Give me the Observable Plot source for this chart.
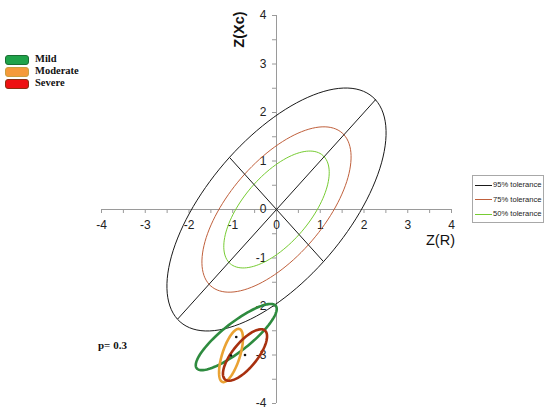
<!DOCTYPE html>
<html><head><meta charset="utf-8">
<script src="https://cdn.jsdelivr.net/npm/d3@7"></script>
<script src="https://cdn.jsdelivr.net/npm/@observablehq/plot@0.6"></script>
<style>
body{margin:0;background:#fff;}
#wrap{position:relative;width:550px;height:413px;overflow:hidden;}
.lg{position:absolute;font-family:"Liberation Serif","Times New Roman",serif;font-weight:bold;font-size:10.5px;color:#111;}
.sw{position:absolute;width:22px;height:8px;border-radius:3px;border:1px solid;}
#tol{position:absolute;left:472px;top:175px;width:70px;height:46px;border:1px solid #a8a8a8;background:#fff;font-family:"Liberation Sans",Arial,sans-serif;font-size:7.6px;color:#222;}
#tol .row{position:absolute;left:2px;height:10px;line-height:10px;white-space:nowrap;}
#tol .ln{display:inline-block;width:17px;height:0;border-top:1px solid;vertical-align:middle;margin-right:1px;}
</style></head><body>
<div id="wrap"></div>
<script>
// axis ticks
const axisTicks = [-4, -3, -2, -1, 0, 1, 2, 3, 4];
const minorTicks = [-4, -3.5, -3, -2.5, -2, -1.5, -1, -0.5, 0, 0.5, 1, 1.5, 2, 2.5, 3, 3.5, 4];
const xTitle = "Z(R)";
const yTitle = "Z(Xc)";

// tolerance ellipses (semi-axes along the 45° diagonals, in Z units)
const tolLabels = ["95% tolerance", "75% tolerance", "50% tolerance"];
const tolSemiMajor = [3.2, 2.18, 1.54];
const tolSemiMinor = [1.52, 1.03, 0.73];
const tolColors = ["#1a1a1a", "#c0603c", "#77cc33"];

// patient groups (confidence ellipses)
const groupNames = ["Mild", "Moderate", "Severe"];
const groupCx = [-0.92, -1.04, -0.72];
const groupCy = [-2.63, -3.01, -3.0];
const groupSemiMajor = [1.11, 0.58, 0.68];
const groupSemiMinor = [0.3, 0.2, 0.27];
const groupAngle = [35, 70, 47];
const groupColors = ["#2e8b3f", "#eaa233", "#a8300f"];
const groupSwatchFill = ["#1fa34a", "#f59a3a", "#ee1111"];
const groupSwatchBorder = ["#1a6e33", "#c9a040", "#8b3010"];
const pLabel = "p= 0.3";

function ellipse(cx, cy, a, b, deg) {
  const t = deg * Math.PI / 180;
  return d3.range(0, 361, 3).map(k => {
    const u = k * Math.PI / 180;
    return {
      x: cx + a * Math.cos(u) * Math.cos(t) - b * Math.sin(u) * Math.sin(t),
      y: cy + a * Math.cos(u) * Math.sin(t) + b * Math.sin(u) * Math.cos(t)
    };
  });
}

const xRange = [101, 451], yRange = [403, 15];
const pxPerX = (xRange[1] - xRange[0]) / 8;
const pxPerY = (yRange[0] - yRange[1]) / 8;
const font = "Liberation Sans, Arial, sans-serif";

const marks = [];
// axes
marks.push(Plot.ruleY([0], {x1: axisTicks[0], x2: axisTicks[axisTicks.length - 1], stroke: "#9a9a9a"}));
marks.push(Plot.ruleX([0], {y1: axisTicks[0], y2: axisTicks[axisTicks.length - 1], stroke: "#9a9a9a"}));
marks.push(Plot.ruleX(minorTicks, {x: d => d, y1: 0, y2: -4 / pxPerY, stroke: "#9a9a9a"}));
marks.push(Plot.ruleY(minorTicks, {y: d => d, x1: 0, x2: -4 / pxPerX, stroke: "#9a9a9a"}));
marks.push(Plot.text(axisTicks, {x: d => d, y: 0, dy: 16, text: d => String(d), fontSize: 12, fill: "#222", fontFamily: font}));
marks.push(Plot.text(axisTicks, {x: 0, y: d => d, dx: -10, textAnchor: "end", text: d => String(d), fontSize: 12, fill: "#222", fontFamily: font}));
marks.push(Plot.text([xTitle], {x: axisTicks[axisTicks.length - 1], y: 0, dx: -11, dy: 31, text: d => d, fontSize: 14.5, fill: "#111", fontFamily: font}));
marks.push(Plot.text([yTitle], {x: 0, y: axisTicks[axisTicks.length - 1], dx: -37, dy: 14, rotate: -90, text: d => d, fontSize: 14.5, fontWeight: "bold", fill: "#111", fontFamily: font}));

// tolerance ellipses
tolLabels.forEach((lab, i) => {
  marks.push(Plot.line(ellipse(0, 0, tolSemiMajor[i], tolSemiMinor[i], 45), {x: "x", y: "y", stroke: tolColors[i], strokeWidth: 1, curve: "linear-closed"}));
});
// axes of 95% ellipse
const ma = tolSemiMajor[0] / Math.SQRT2, mi = tolSemiMinor[0] / Math.SQRT2;
marks.push(Plot.link([{x1: -ma, y1: -ma, x2: ma, y2: ma}, {x1: -mi, y1: mi, x2: mi, y2: -mi}], {x1: "x1", y1: "y1", x2: "x2", y2: "y2", stroke: tolColors[0], strokeWidth: 1}));

// group ellipses
groupNames.forEach((g, i) => {
  marks.push(Plot.line(ellipse(groupCx[i], groupCy[i], groupSemiMajor[i], groupSemiMinor[i], groupAngle[i]), {x: "x", y: "y", stroke: groupColors[i], strokeWidth: 2.6, curve: "linear-closed"}));
});
marks.push(Plot.dot(groupNames.map((g, i) => ({x: groupCx[i], y: groupCy[i]})), {x: "x", y: "y", r: 1.3, fill: "#111", stroke: "none"}));

const chart = Plot.plot({
  width: 550, height: 413,
  x: {domain: [-4, 4], range: xRange, axis: null},
  y: {domain: [-4, 4], range: yRange, axis: null},
  style: {background: "#fff"},
  marks
});
const wrap = document.getElementById("wrap");
wrap.appendChild(chart);

// group legend
groupNames.forEach((g, i) => {
  const sw = document.createElement("div");
  sw.className = "sw";
  sw.style.left = "5px"; sw.style.top = (55 + i * 12) + "px";
  sw.style.background = groupSwatchFill[i]; sw.style.borderColor = groupSwatchBorder[i];
  wrap.appendChild(sw);
  const t = document.createElement("div");
  t.className = "lg"; t.textContent = g;
  t.style.left = "35px"; t.style.top = (53 + i * 12) + "px";
  wrap.appendChild(t);
});
const p = document.createElement("div");
p.className = "lg"; p.textContent = pLabel;
p.style.left = "98px"; p.style.top = "339px"; p.style.fontSize = "11px";
wrap.appendChild(p);

// tolerance legend
const tol = document.createElement("div");
tol.id = "tol";
tolLabels.forEach((lab, i) => {
  const r = document.createElement("div");
  r.className = "row"; r.style.top = (4 + i * 14.5) + "px";
  const ln = document.createElement("span");
  ln.className = "ln"; ln.style.borderTopColor = tolColors[i];
  r.appendChild(ln);
  r.appendChild(document.createTextNode(lab));
  tol.appendChild(r);
});
wrap.appendChild(tol);
</script>
</body></html>
